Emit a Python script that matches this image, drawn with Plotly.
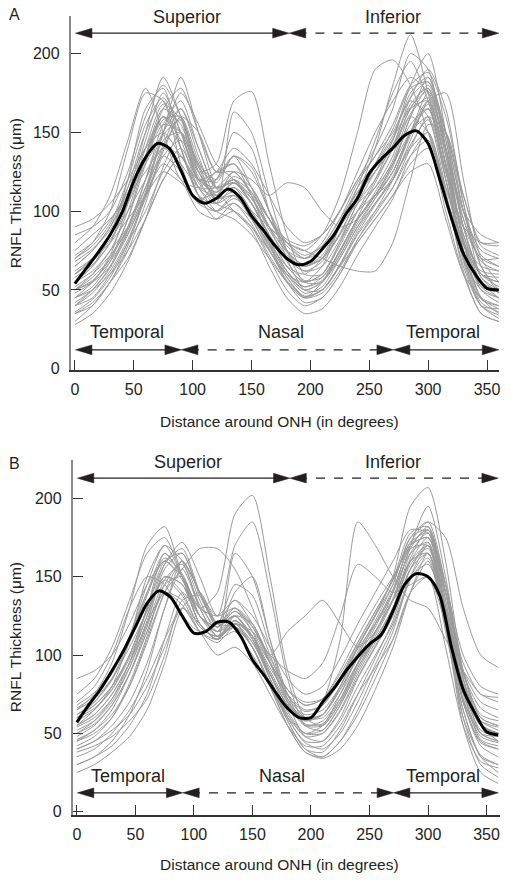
import plotly.graph_objects as go

# ---------------- data ----------------
deg_grid = [0, 15, 30, 45, 60, 75, 90, 105, 120, 135, 150, 165, 180,
            195, 210, 225, 240, 255, 270, 285, 300, 315, 330, 345, 360]
mean_deg = list(range(0, 361, 10))

mean_A = [54, 64, 74, 85, 99, 119, 134, 143, 140, 126, 110, 105, 108, 114, 109,
          97, 88, 78, 70, 66, 68, 76, 85, 98, 108, 124, 133, 140, 148, 151,
          143, 120, 95, 73, 60, 51, 50]
mean_B = [57, 68, 78, 90, 103, 118, 133, 141, 137, 125, 114, 115, 121, 121, 112,
          97, 87, 76, 66, 60, 60, 70, 79, 90, 99, 107, 113, 128, 145, 152,
          150, 138, 105, 78, 63, 51, 49]

subjects_A = [
    [45, 55, 70, 95, 130, 160, 150, 120, 115, 120, 105, 85, 65, 55, 60, 80, 100, 115, 135, 165, 170, 130, 85, 55, 45],
    [60, 70, 85, 120, 165, 178, 140, 110, 100, 110, 95, 75, 60, 55, 65, 90, 110, 125, 145, 175, 185, 140, 90, 60, 55],
    [35, 40, 55, 75, 105, 140, 160, 125, 110, 125, 110, 80, 55, 45, 55, 75, 95, 110, 125, 150, 165, 120, 75, 45, 35],
    [70, 80, 100, 140, 175, 170, 130, 105, 120, 135, 115, 90, 75, 70, 80, 100, 120, 140, 165, 200, 190, 140, 95, 70, 70],
    [50, 60, 75, 90, 115, 150, 185, 150, 115, 100, 90, 75, 60, 50, 55, 70, 90, 105, 120, 140, 150, 110, 70, 50, 45],
    [80, 90, 110, 145, 178, 150, 120, 115, 125, 130, 110, 90, 80, 75, 85, 110, 150, 190, 196, 180, 150, 115, 90, 80, 80],
    [40, 45, 60, 80, 100, 125, 140, 120, 120, 150, 140, 100, 70, 50, 50, 65, 85, 100, 115, 135, 145, 110, 65, 40, 38],
    [55, 65, 80, 110, 150, 185, 160, 125, 130, 170, 176, 130, 85, 60, 60, 80, 105, 120, 140, 165, 180, 145, 90, 60, 55],
    [30, 40, 55, 70, 95, 120, 135, 110, 95, 100, 90, 70, 50, 40, 45, 60, 80, 95, 110, 130, 140, 100, 60, 35, 30],
    [65, 75, 90, 115, 140, 160, 145, 115, 105, 115, 105, 85, 70, 65, 70, 85, 110, 140, 180, 212, 175, 120, 80, 65, 62],
    [50, 55, 65, 85, 110, 130, 120, 100, 95, 105, 95, 80, 65, 60, 70, 90, 105, 115, 130, 150, 160, 150, 100, 65, 50],
    [60, 70, 85, 105, 130, 150, 175, 155, 130, 120, 105, 85, 70, 62, 68, 85, 100, 110, 120, 145, 170, 175, 120, 70, 55],
    [45, 50, 60, 75, 95, 120, 135, 115, 100, 95, 85, 70, 55, 45, 50, 65, 80, 95, 110, 125, 130, 95, 60, 45, 40],
    [75, 85, 95, 110, 125, 140, 130, 115, 115, 125, 120, 110, 118, 115, 100, 90, 95, 110, 130, 160, 185, 150, 100, 75, 70],
    [55, 65, 85, 115, 150, 170, 140, 110, 105, 163, 150, 110, 75, 55, 55, 75, 95, 110, 130, 155, 165, 125, 85, 60, 52],
    [40, 50, 65, 90, 120, 150, 165, 135, 110, 115, 100, 80, 60, 48, 52, 70, 90, 108, 125, 150, 175, 140, 80, 45, 38],
    [65, 75, 90, 110, 135, 165, 178, 150, 125, 130, 115, 95, 75, 65, 70, 90, 115, 145, 175, 195, 170, 125, 90, 70, 65],
    [50, 58, 70, 90, 115, 135, 125, 105, 100, 108, 100, 90, 80, 75, 70, 65, 62, 62, 80, 120, 155, 150, 105, 65, 48],
    [85, 90, 100, 125, 160, 180, 160, 130, 120, 135, 125, 100, 80, 70, 78, 95, 118, 135, 155, 180, 188, 160, 110, 80, 78],
    [35, 42, 55, 78, 110, 145, 150, 120, 105, 110, 95, 75, 58, 45, 48, 62, 82, 98, 115, 140, 160, 125, 70, 40, 32],
    [60, 68, 82, 100, 120, 140, 135, 115, 110, 118, 110, 95, 82, 78, 85, 100, 120, 135, 150, 170, 160, 115, 80, 60, 58],
    [45, 52, 68, 95, 135, 165, 155, 125, 108, 112, 98, 78, 62, 52, 58, 75, 95, 110, 128, 160, 178, 135, 80, 50, 42],
    [70, 78, 92, 120, 155, 172, 150, 120, 112, 120, 108, 88, 72, 65, 72, 92, 115, 130, 148, 172, 182, 150, 100, 72, 65],
    [55, 62, 75, 100, 135, 160, 140, 110, 100, 105, 92, 72, 55, 42, 45, 60, 82, 100, 120, 150, 170, 135, 80, 52, 50],
    [48, 55, 72, 105, 145, 175, 150, 118, 108, 118, 105, 82, 62, 50, 55, 72, 92, 108, 125, 150, 165, 130, 82, 52, 45],
    [40, 48, 62, 82, 108, 135, 145, 122, 110, 115, 100, 82, 62, 52, 56, 72, 94, 112, 132, 162, 172, 128, 72, 42, 36],
    [62, 70, 80, 95, 110, 125, 118, 108, 112, 120, 112, 95, 80, 72, 78, 95, 112, 125, 140, 160, 150, 110, 78, 62, 60],
    [52, 60, 72, 88, 112, 142, 165, 140, 115, 118, 105, 85, 65, 55, 60, 78, 100, 120, 145, 180, 200, 150, 90, 58, 50],
    [28, 35, 48, 68, 95, 128, 150, 130, 105, 100, 88, 65, 45, 35, 38, 52, 72, 90, 108, 135, 150, 112, 62, 35, 30],
    [90, 95, 105, 120, 140, 150, 135, 120, 125, 140, 130, 110, 90, 80, 85, 100, 125, 150, 170, 185, 175, 140, 100, 85, 80],
    [58, 66, 80, 105, 140, 168, 158, 128, 118, 135, 128, 100, 75, 62, 65, 82, 105, 125, 142, 168, 178, 138, 82, 55, 50],
    [42, 50, 64, 88, 120, 155, 170, 140, 115, 112, 98, 76, 56, 46, 50, 66, 88, 105, 122, 148, 168, 130, 75, 44, 40],
    [68, 76, 88, 108, 132, 155, 150, 125, 112, 122, 115, 95, 78, 70, 75, 92, 112, 130, 152, 178, 182, 145, 95, 68, 62],
    [50, 56, 68, 86, 110, 138, 160, 150, 125, 125, 112, 90, 68, 56, 58, 74, 96, 118, 140, 172, 190, 165, 105, 58, 48],
    [36, 44, 58, 80, 112, 148, 158, 128, 108, 110, 98, 78, 58, 46, 50, 66, 86, 104, 120, 142, 158, 120, 68, 40, 34],
    [72, 80, 94, 112, 135, 158, 160, 132, 115, 118, 108, 90, 74, 66, 70, 86, 108, 128, 146, 166, 176, 150, 110, 78, 72],
]

subjects_B = [
    [55, 65, 80, 110, 150, 170, 150, 120, 110, 120, 105, 80, 60, 50, 55, 75, 100, 120, 140, 170, 175, 130, 80, 55, 50],
    [40, 45, 55, 70, 95, 130, 160, 140, 120, 130, 115, 85, 60, 45, 45, 60, 85, 105, 125, 155, 165, 120, 70, 45, 40],
    [65, 75, 95, 130, 170, 182, 150, 120, 110, 115, 100, 80, 65, 58, 62, 80, 105, 125, 145, 175, 180, 140, 90, 60, 55],
    [30, 35, 42, 55, 75, 110, 140, 125, 115, 140, 150, 110, 70, 48, 45, 58, 80, 100, 120, 150, 165, 115, 65, 35, 25],
    [60, 70, 85, 110, 140, 165, 150, 130, 140, 190, 202, 150, 90, 60, 55, 70, 95, 115, 135, 160, 170, 130, 80, 55, 50],
    [50, 58, 72, 95, 130, 160, 165, 140, 125, 170, 185, 140, 85, 55, 52, 68, 90, 110, 130, 165, 178, 130, 75, 50, 45],
    [70, 80, 100, 130, 150, 145, 125, 115, 120, 135, 120, 100, 115, 125, 135, 120, 105, 115, 140, 170, 175, 140, 95, 75, 73],
    [45, 50, 60, 80, 110, 140, 155, 168, 168, 155, 130, 100, 75, 60, 60, 75, 95, 110, 130, 160, 175, 140, 85, 55, 45],
    [55, 62, 75, 95, 125, 150, 145, 120, 110, 125, 120, 95, 70, 58, 70, 110, 185, 170, 150, 135, 130, 110, 90, 75, 70],
    [35, 40, 50, 65, 85, 110, 130, 115, 100, 105, 95, 75, 55, 42, 42, 55, 75, 92, 110, 140, 160, 120, 65, 35, 30],
    [60, 68, 80, 100, 128, 150, 140, 118, 112, 122, 110, 88, 68, 58, 62, 80, 105, 125, 150, 195, 207, 160, 90, 60, 55],
    [50, 56, 68, 88, 115, 145, 160, 135, 115, 120, 105, 82, 62, 50, 52, 68, 92, 112, 135, 170, 195, 150, 85, 50, 45],
    [75, 85, 105, 135, 165, 175, 150, 125, 118, 128, 115, 95, 78, 68, 72, 90, 112, 132, 150, 168, 170, 130, 90, 70, 65],
    [45, 52, 65, 88, 118, 148, 158, 130, 112, 118, 105, 82, 58, 40, 38, 52, 75, 98, 122, 155, 172, 130, 70, 42, 35],
    [65, 72, 85, 105, 128, 148, 138, 118, 112, 122, 112, 92, 75, 65, 68, 85, 108, 128, 148, 172, 185, 175, 130, 100, 92],
    [40, 45, 52, 62, 80, 105, 130, 120, 110, 120, 112, 85, 58, 40, 35, 45, 65, 90, 115, 150, 170, 120, 55, 25, 18],
    [55, 62, 75, 95, 120, 140, 132, 115, 110, 120, 115, 100, 90, 85, 95, 125, 158, 150, 140, 145, 150, 120, 80, 55, 50],
    [68, 76, 90, 112, 140, 160, 148, 125, 118, 130, 120, 98, 78, 68, 72, 88, 108, 128, 148, 178, 182, 140, 88, 62, 58],
    [30, 35, 45, 62, 90, 130, 155, 130, 112, 118, 105, 80, 55, 38, 35, 45, 62, 85, 110, 140, 150, 105, 55, 32, 28],
    [58, 65, 78, 100, 130, 158, 168, 140, 118, 125, 110, 88, 68, 60, 62, 78, 100, 120, 142, 170, 180, 135, 80, 55, 50],
    [48, 55, 68, 88, 115, 140, 135, 115, 108, 118, 108, 88, 68, 55, 58, 72, 95, 115, 135, 160, 165, 122, 72, 48, 44],
    [62, 70, 84, 108, 138, 162, 152, 125, 115, 125, 112, 90, 70, 60, 62, 78, 98, 118, 140, 165, 172, 130, 78, 52, 48],
    [52, 58, 70, 92, 122, 150, 145, 120, 110, 165, 150, 110, 75, 55, 55, 70, 92, 110, 130, 158, 168, 125, 72, 50, 48],
    [42, 48, 60, 82, 112, 145, 150, 125, 112, 120, 108, 85, 62, 48, 50, 65, 88, 108, 128, 155, 170, 128, 70, 44, 40],
    [25, 30, 38, 48, 65, 95, 130, 140, 120, 118, 105, 80, 55, 38, 34, 40, 55, 78, 105, 140, 165, 125, 60, 30, 22],
    [85, 90, 100, 120, 145, 160, 150, 130, 125, 135, 125, 105, 85, 75, 80, 98, 120, 140, 160, 180, 178, 145, 100, 80, 75],
    [60, 66, 78, 98, 125, 158, 172, 150, 125, 130, 118, 95, 72, 62, 65, 80, 102, 122, 145, 175, 185, 145, 85, 58, 52],
    [46, 52, 62, 80, 108, 140, 160, 140, 118, 125, 112, 88, 64, 50, 50, 64, 86, 106, 128, 162, 180, 140, 78, 46, 42],
    [66, 74, 88, 112, 145, 170, 160, 132, 118, 128, 118, 96, 74, 64, 68, 84, 106, 126, 148, 172, 178, 135, 82, 58, 54],
    [38, 42, 48, 58, 72, 100, 135, 138, 120, 125, 110, 85, 60, 44, 40, 50, 70, 94, 118, 148, 162, 118, 60, 36, 30],
    [54, 60, 72, 92, 120, 155, 165, 138, 120, 145, 138, 105, 72, 56, 56, 72, 94, 114, 136, 168, 182, 145, 90, 56, 50],
    [62, 68, 80, 100, 130, 165, 150, 125, 115, 122, 112, 95, 78, 70, 72, 86, 104, 120, 135, 150, 158, 128, 88, 66, 60],
]

x_ticks = [0, 50, 100, 150, 200, 250, 300, 350]
y_ticks = [0, 50, 100, 150, 200]
quadrant_labels = ["Superior", "Inferior"]
sector_labels = ["Temporal", "Nasal", "Temporal"]
panel_labels = ["A", "B"]

# ---------------- figure ----------------
W, H = 513, 890
FONT = "Liberation Sans, Arial, Helvetica, sans-serif"
GRAY = "#9a9a9a"
INK = "#231f20"

fig = go.Figure()

def add_panel(subjects, mean, xa, ya):
    for s in subjects:
        fig.add_trace(go.Scatter(x=deg_grid, y=s, mode="lines", xaxis=xa, yaxis=ya,
                                 line=dict(color=GRAY, width=1, shape="spline", smoothing=0.7),
                                 hoverinfo="skip", showlegend=False))
    fig.add_trace(go.Scatter(x=mean_deg, y=mean, mode="lines", xaxis=xa, yaxis=ya,
                             line=dict(color="#000000", width=3, shape="spline", smoothing=0.8),
                             showlegend=False))

add_panel(subjects_A, mean_A, "x", "y")
add_panel(subjects_B, mean_B, "x2", "y2")

def px_x(p):
    return p / W

def px_y(p):
    return 1 - p / H

xcommon = dict(tickvals=x_ticks, ticks="inside", ticklen=10, tickcolor="#333333", tickwidth=1.2,
               showline=True, linecolor="#333333", linewidth=1.5, showgrid=False, zeroline=False,
               tickfont=dict(family=FONT, size=16, color=INK), ticklabelstandoff=4, fixedrange=True)
ycommon = dict(tickvals=y_ticks, ticks="inside", ticklen=10, tickcolor="#333333", tickwidth=1.2,
               showline=True, linecolor="#8a8a8a", linewidth=2, showgrid=False, zeroline=False,
               tickfont=dict(family=FONT, size=16, color=INK), ticklabelstandoff=6, fixedrange=True)

fig.update_layout(
    width=W, height=H, margin=dict(l=0, r=0, t=0, b=0),
    paper_bgcolor="white", plot_bgcolor="white", showlegend=False,
    font=dict(family=FONT, color=INK),
    xaxis=dict(xcommon, domain=[px_x(71), px_x(500)], range=[-3.4, 360.2], anchor="y"),
    yaxis=dict(ycommon, domain=[px_y(373), px_y(16)], range=[-0.6, 224], anchor="x"),
    xaxis2=dict(xcommon, domain=[px_x(73), px_x(501)], range=[-3.4, 361.5], anchor="y2"),
    yaxis2=dict(ycommon, domain=[px_y(822), px_y(464)], range=[-1.9, 224.7], anchor="x2"),
)

shapes = []
annots = []

def arrow(xr, yr, x0, x1, y, dash, hl, hh):
    shapes.append(dict(type="line", xref=xr, yref=yr, x0=x0 + hl * 0.5, x1=x1 - hl * 0.5, y0=y, y1=y,
                       line=dict(color=INK, width=1.2, dash=dash), layer="above"))
    shapes.append(dict(type="path", xref=xr, yref=yr,
                       path=f"M {x0} {y} L {x0 + hl} {y + hh} L {x0 + hl} {y - hh} Z",
                       fillcolor=INK, line=dict(color=INK, width=0.5), layer="above"))
    shapes.append(dict(type="path", xref=xr, yref=yr,
                       path=f"M {x1} {y} L {x1 - hl} {y + hh} L {x1 - hl} {y - hh} Z",
                       fillcolor=INK, line=dict(color=INK, width=0.5), layer="above"))

def label(**kw):
    kw.setdefault("showarrow", False)
    kw.setdefault("xanchor", "center")
    kw.setdefault("yanchor", "middle")
    annots.append(kw)

for xr, yr in [("x", "y"), ("x2", "y2")]:
    hl, hh = 14.0, 3.1
    arrow(xr, yr, 0.5, 182, 213, "solid", hl, hh)
    arrow(xr, yr, 182, 360, 213, "dash", hl, hh)
    arrow(xr, yr, 0.5, 90.5, 12, "solid", hl, hh)
    arrow(xr, yr, 90.5, 270.5, 12, "dash", hl, hh)
    arrow(xr, yr, 270.5, 360, 12, "solid", hl, hh)
    for lab, xx in zip(quadrant_labels, [95, 270]):
        label(xref=xr, yref=yr, x=xx, y=223, text=lab, font=dict(family=FONT, size=18, color=INK))
    for lab, xx in zip(sector_labels, [44, 175, 313]):
        label(xref=xr, yref=yr, x=xx, y=23, text=lab, font=dict(family=FONT, size=18, color=INK))

for lab, ypx in zip(panel_labels, [15, 468]):
    label(xref="paper", yref="paper", x=px_x(15), y=px_y(ypx), text=lab,
          font=dict(family=FONT, size=16, color=INK))
for ycen in [195, 643]:
    label(xref="paper", yref="paper", x=px_x(15), y=px_y(ycen),
          text="RNFL Thickness (\u03bcm)", textangle=-90, font=dict(family=FONT, size=15.5, color=INK))
for ypx in [425, 872]:
    label(xref="paper", yref="paper", x=px_x(280), y=px_y(ypx),
          text="Distance around ONH (in degrees)", font=dict(family=FONT, size=15.5, color=INK))

fig.update_layout(shapes=shapes, annotations=annots)
fig.write_html("out.html", config={"displayModeBar": False},
               post_script="document.body.style.margin='0';document.body.style.padding='0';"
                           "document.documentElement.style.overflow='hidden';")
